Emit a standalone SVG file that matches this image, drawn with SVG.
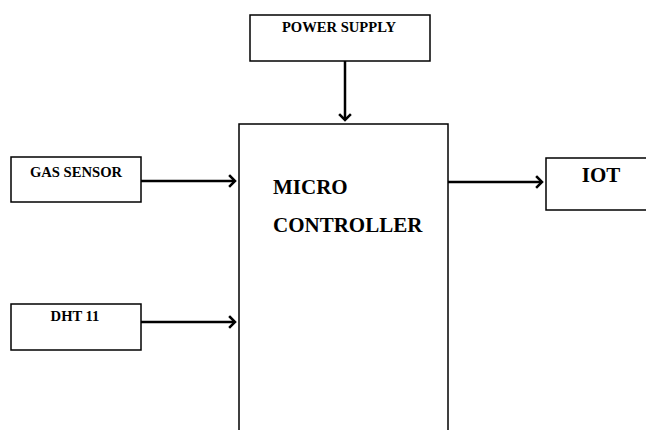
<svg xmlns="http://www.w3.org/2000/svg" width="646" height="430" viewBox="0 0 646 430">
<defs>
<style>
.box{fill:#fff;stroke:#000;stroke-width:1.5}
.lbl{font-family:"Liberation Serif","Times New Roman",serif;font-weight:bold;fill:#000}
.s{font-size:14.6px}
.l{font-size:21px}
.conn{stroke:#000;stroke-width:2.5;fill:none}
.head{stroke:#000;stroke-width:2.5;fill:none;stroke-linecap:square}
</style>
</defs>
<rect width="646" height="430" fill="#fff"/>
<g id="power-supply">
<rect class="box" x="250" y="15" width="180" height="46"/>
<text class="lbl s" x="339" y="32" text-anchor="middle">POWER SUPPLY</text>
</g>
<g id="micro-controller">
<rect class="box" x="239" y="124" width="209" height="320"/>
<text class="lbl l" x="273" y="194">MICRO</text>
<text class="lbl l" x="273" y="232">CONTROLLER</text>
</g>
<g id="gas-sensor">
<rect class="box" x="11" y="157" width="130" height="45"/>
<text class="lbl s" x="76" y="177" text-anchor="middle">GAS SENSOR</text>
</g>
<g id="dht11">
<rect class="box" x="11" y="304" width="130" height="46"/>
<text class="lbl s" x="75" y="321" text-anchor="middle">DHT 11</text>
</g>
<g id="iot">
<rect class="box" x="546" y="158" width="110" height="52"/>
<text class="lbl l" x="601" y="182" text-anchor="middle">IOT</text>
</g>
<g id="connectors">
<line class="conn" x1="345" y1="61" x2="345" y2="120"/>
<polyline class="head" points="340,115 345,120 350,115"/>
<line class="conn" x1="141" y1="181" x2="235" y2="181"/>
<polyline class="head" points="230,176 235,181 230,186"/>
<line class="conn" x1="141" y1="322" x2="235" y2="322"/>
<polyline class="head" points="230,317 235,322 230,327"/>
<line class="conn" x1="448" y1="182" x2="542" y2="182"/>
<polyline class="head" points="537,177 542,182 537,187"/>
</g>
</svg>
